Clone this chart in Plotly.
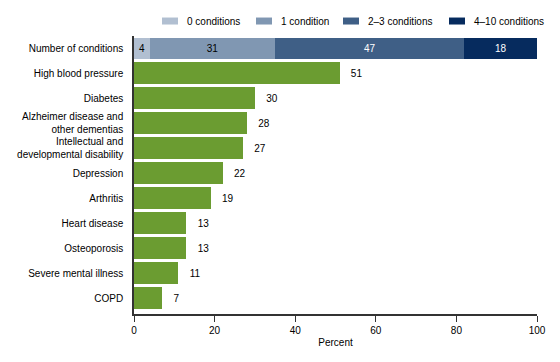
import plotly.graph_objects as go

categories = ["Number of conditions", "High blood pressure", "Diabetes",
              "Alzheimer disease and<br>other dementias",
              "Intellectual and<br>developmental disability",
              "Depression", "Arthritis", "Heart disease", "Osteoporosis",
              "Severe mental illness", "COPD"]
condition_labels = ["High blood pressure", "Diabetes",
                    "Alzheimer disease and<br>other dementias",
                    "Intellectual and<br>developmental disability",
                    "Depression", "Arthritis", "Heart disease", "Osteoporosis",
                    "Severe mental illness", "COPD"]
condition_values = [51, 30, 28, 27, 22, 19, 13, 13, 11, 7]

count_names = ["0 conditions", "1 condition", "2–3 conditions", "4–10 conditions"]
count_values = [4, 31, 47, 18]
count_colors = ["#b1bfd1", "#8097b2", "#3f5f86", "#062b5e"]
count_text_colors = ["#000000", "#000000", "#ffffff", "#ffffff"]

font = "Liberation Sans, Arial, sans-serif"
fs = 10
W, H = 552, 354  # page body has an 8px margin
L, R, T, B = 126, 23, 27.5, 48
PW, PH = W - L - R, H - T - B


def px(xp):  # page x pixel -> paper
    return (xp - 8 - L) / PW


def py(yp):  # page y pixel -> paper
    return (H - B - (yp - 8)) / PH


fig = go.Figure()

for name, val, col, tcol in zip(count_names, count_values, count_colors, count_text_colors):
    fig.add_trace(go.Bar(
        y=["Number of conditions"], x=[val], orientation="h", name=name,
        marker=dict(color=col, line=dict(width=0)), width=0.88,
        text=[str(val)], textposition="inside", insidetextanchor="middle",
        insidetextfont=dict(color=tcol, size=fs, family=font),
        hoverinfo="skip", showlegend=False,
    ))

fig.add_trace(go.Bar(
    y=condition_labels, x=condition_values, orientation="h",
    marker=dict(color="#6b9c31", line=dict(width=0)), width=0.88,
    text=["   " + str(v) for v in condition_values], textposition="outside",
    outsidetextfont=dict(color="#000000", size=fs, family=font),
    cliponaxis=False, showlegend=False, hoverinfo="skip",
))

# legend drawn as swatches + labels (positions in page pixels)
legend_swatch_x = [162, 256, 343, 449]
for name, col, sx in zip(count_names, count_colors, legend_swatch_x):
    fig.add_shape(type="rect", xref="paper", yref="paper",
                  x0=px(sx), x1=px(sx + 16), y0=py(24), y1=py(17),
                  fillcolor=col, line=dict(width=0))
    fig.add_annotation(xref="paper", yref="paper", x=px(sx + 23), y=py(20.5),
                       text=name, showarrow=False, xanchor="left", yanchor="middle",
                       font=dict(size=fs, family=font, color="#000000"))

fig.update_layout(
    barmode="stack",
    width=W, height=H,
    margin=dict(l=L, r=R, t=T, b=B, autoexpand=False),
    paper_bgcolor="white", plot_bgcolor="white",
    font=dict(family=font, size=fs, color="#000000"),
    showlegend=False,
    xaxis=dict(range=[0, 100], tickvals=[0, 20, 40, 60, 80, 100],
               showgrid=False, zeroline=False, showline=True, linecolor="#333333",
               linewidth=1.5, ticks="outside", ticklen=6, tickcolor="#333333",
               title=dict(text="Percent", font=dict(size=fs), standoff=4),
               tickfont=dict(size=fs), automargin=False),
    yaxis=dict(categoryorder="array", categoryarray=categories,
               range=[10.64, -0.5], showgrid=False, zeroline=False,
               showline=True, linecolor="#333333", linewidth=1.5,
               ticks="", ticklabelstandoff=7, tickfont=dict(size=fs),
               automargin=False),
)

fig.write_html("out.html")
